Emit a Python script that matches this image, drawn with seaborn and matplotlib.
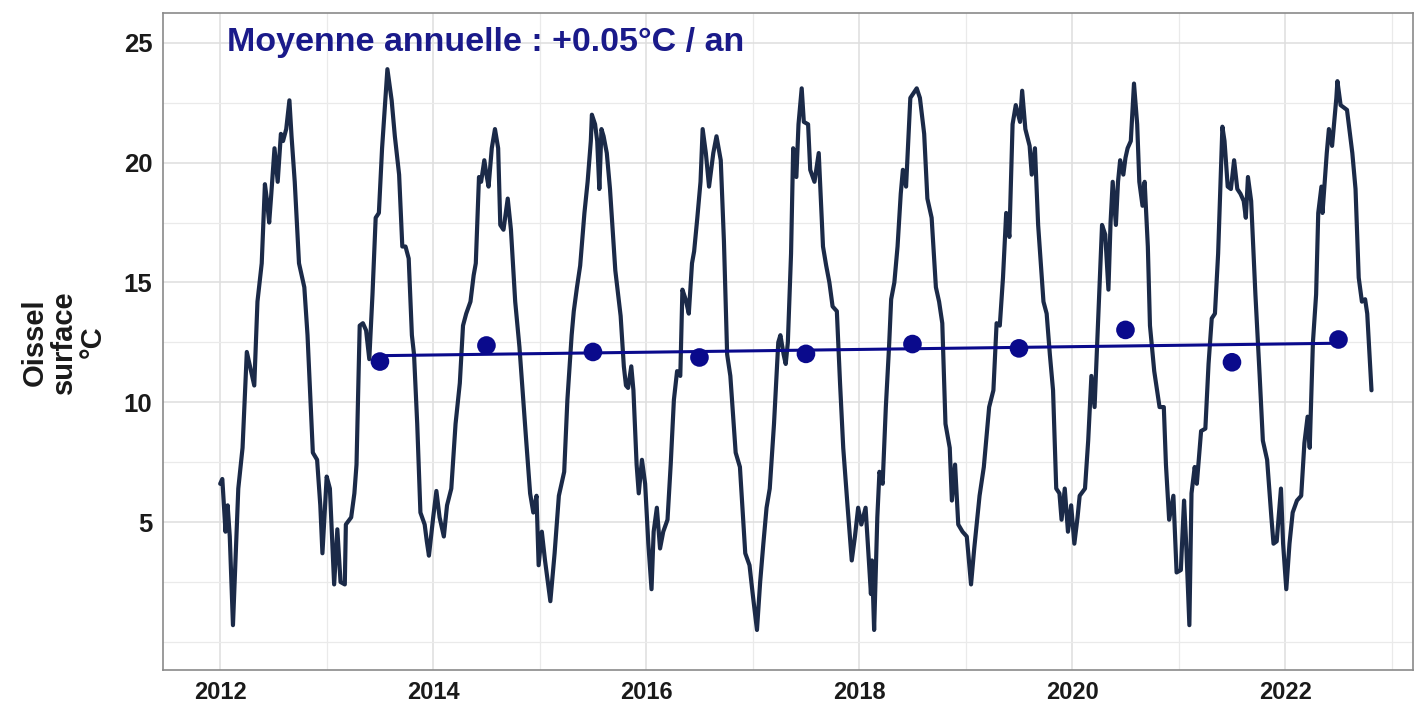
import numpy as np
import pandas as pd
import seaborn as sns
import matplotlib.pyplot as plt

# --- weekly surface temperature at Oissel (decimal year, °C) ---
dates = [
    2012.00, 2012.02, 2012.05, 2012.07, 2012.09, 2012.12, 2012.17, 2012.21, 2012.25, 2012.28,
    2012.32, 2012.35, 2012.39, 2012.42, 2012.44, 2012.46, 2012.48, 2012.51, 2012.54, 2012.57,
    2012.59, 2012.62, 2012.65, 2012.67, 2012.70, 2012.74, 2012.79, 2012.82, 2012.87, 2012.91,
    2012.94, 2012.96, 2013.00, 2013.03, 2013.07, 2013.10, 2013.13, 2013.17, 2013.18, 2013.23,
    2013.26, 2013.28, 2013.31, 2013.34, 2013.37, 2013.40, 2013.43, 2013.46, 2013.49, 2013.52,
    2013.57, 2013.61, 2013.64, 2013.68, 2013.71, 2013.74, 2013.77, 2013.80, 2013.82, 2013.85,
    2013.88, 2013.92, 2013.94, 2013.96, 2014.00, 2014.03, 2014.06, 2014.10, 2014.13, 2014.17,
    2014.21, 2014.25, 2014.28, 2014.31, 2014.35, 2014.38, 2014.40, 2014.43, 2014.45, 2014.48,
    2014.50, 2014.52, 2014.55, 2014.58, 2014.61, 2014.63, 2014.66, 2014.70, 2014.73, 2014.77,
    2014.81, 2014.87, 2014.91, 2014.94, 2014.97, 2014.99, 2015.02, 2015.05, 2015.10, 2015.14,
    2015.18, 2015.23, 2015.26, 2015.30, 2015.32, 2015.35, 2015.38, 2015.42, 2015.45, 2015.48,
    2015.49, 2015.52, 2015.54, 2015.56, 2015.58, 2015.60, 2015.63, 2015.66, 2015.71, 2015.76,
    2015.79, 2015.81, 2015.83, 2015.86, 2015.88, 2015.91, 2015.93, 2015.96, 2015.99, 2016.02,
    2016.05, 2016.07, 2016.10, 2016.13, 2016.16, 2016.20, 2016.23, 2016.26, 2016.29, 2016.32,
    2016.34, 2016.37, 2016.40, 2016.43, 2016.45, 2016.48, 2016.51, 2016.53, 2016.56, 2016.59,
    2016.63, 2016.66, 2016.70, 2016.73, 2016.76, 2016.79, 2016.84, 2016.88, 2016.93, 2016.97,
    2017.00, 2017.04, 2017.07, 2017.10, 2017.13, 2017.16, 2017.20, 2017.24, 2017.26, 2017.29,
    2017.31, 2017.33, 2017.36, 2017.38, 2017.41, 2017.43, 2017.46, 2017.48, 2017.52, 2017.54,
    2017.58, 2017.62, 2017.66, 2017.69, 2017.72, 2017.75, 2017.79, 2017.82, 2017.85, 2017.89,
    2017.93, 2017.96, 2017.99, 2018.02, 2018.06, 2018.09, 2018.11, 2018.12, 2018.14, 2018.17,
    2018.19, 2018.22, 2018.25, 2018.28, 2018.30, 2018.33, 2018.36, 2018.39, 2018.41, 2018.44,
    2018.48, 2018.51, 2018.54, 2018.57, 2018.61, 2018.64, 2018.68, 2018.72, 2018.75, 2018.78,
    2018.81, 2018.85, 2018.87, 2018.90, 2018.93, 2018.97, 2019.01, 2019.05, 2019.08, 2019.13,
    2019.17, 2019.22, 2019.26, 2019.29, 2019.32, 2019.35, 2019.38, 2019.41, 2019.44, 2019.47,
    2019.51, 2019.53, 2019.56, 2019.60, 2019.62, 2019.65, 2019.68, 2019.73, 2019.76, 2019.79,
    2019.82, 2019.85, 2019.88, 2019.90, 2019.93, 2019.96, 2019.99, 2020.02, 2020.05, 2020.07,
    2020.12, 2020.15, 2020.18, 2020.21, 2020.25, 2020.28, 2020.31, 2020.34, 2020.36, 2020.38,
    2020.41, 2020.43, 2020.45, 2020.48, 2020.50, 2020.52, 2020.55, 2020.58, 2020.61, 2020.63,
    2020.66, 2020.68, 2020.71, 2020.73, 2020.77, 2020.82, 2020.86, 2020.88, 2020.91, 2020.95,
    2020.98, 2021.02, 2021.05, 2021.07, 2021.10, 2021.12, 2021.15, 2021.17, 2021.21, 2021.25,
    2021.28, 2021.31, 2021.34, 2021.37, 2021.41, 2021.43, 2021.46, 2021.49, 2021.52, 2021.55,
    2021.58, 2021.61, 2021.63, 2021.65, 2021.68, 2021.72, 2021.76, 2021.79, 2021.83, 2021.87,
    2021.89, 2021.92, 2021.96, 2021.98, 2022.01, 2022.04, 2022.07, 2022.11, 2022.15, 2022.18,
    2022.21, 2022.23, 2022.26, 2022.29, 2022.31, 2022.34, 2022.35, 2022.39, 2022.41, 2022.44,
    2022.46, 2022.48, 2022.49, 2022.52, 2022.55, 2022.58, 2022.63, 2022.66, 2022.69, 2022.72,
    2022.75, 2022.77, 2022.81,
]
temps = [
    6.6, 6.8, 4.6, 5.7, 4.4, 0.7, 6.4, 8.1, 12.1, 11.5,
    10.7, 14.2, 15.8, 19.1, 18.4, 17.5, 18.7, 20.6, 19.2, 21.2,
    20.9, 21.4, 22.6, 21.1, 19.2, 15.8, 14.8, 12.8, 7.9, 7.6,
    5.7, 3.7, 6.9, 6.4, 2.4, 4.7, 2.5, 2.4, 4.9, 5.2,
    6.2, 7.4, 13.2, 13.3, 13.0, 11.8, 14.5, 17.7, 17.9, 20.6,
    23.9, 22.6, 21.1, 19.5, 16.5, 16.5, 16.0, 12.8, 12.0, 9.1,
    5.4, 4.9, 4.2, 3.6, 5.2, 6.3, 5.2, 4.4, 5.7, 6.4,
    9.1, 10.8, 13.2, 13.7, 14.2, 15.3, 15.8, 19.4, 19.2, 20.1,
    19.5, 19.0, 20.6, 21.4, 20.6, 17.4, 17.2, 18.5, 17.2, 14.2,
    12.3, 8.6, 6.2, 5.4, 6.1, 3.2, 4.6, 3.4, 1.7, 3.7,
    6.1, 7.1, 10.1, 12.8, 13.8, 14.8, 15.7, 17.9, 19.2, 20.9,
    22.0, 21.6, 20.9, 18.9, 21.4, 21.1, 20.4, 18.9, 15.5, 13.6,
    11.5, 10.7, 10.6, 11.5, 10.5, 7.4, 6.2, 7.6, 6.6, 4.1,
    2.2, 4.6, 5.6, 3.9, 4.6, 5.1, 7.4, 10.1, 11.3, 11.1,
    14.7, 14.3, 13.7, 15.8, 16.3, 17.7, 19.2, 21.4, 20.4, 19.0,
    20.4, 21.1, 20.1, 16.7, 12.0, 11.1, 7.9, 7.3, 3.7, 3.2,
    2.0, 0.5, 2.5, 4.1, 5.6, 6.4, 9.1, 12.5, 12.8, 12.0,
    11.6, 12.5, 16.2, 20.6, 19.4, 21.6, 23.1, 21.7, 21.6, 19.7,
    19.2, 20.4, 16.5, 15.7, 15.0, 14.0, 13.8, 10.8, 8.1, 5.7,
    3.4, 4.4, 5.6, 4.9, 5.6, 3.4, 2.0, 3.4, 0.5, 5.2,
    7.1, 6.6, 9.8, 12.3, 14.3, 15.0, 16.5, 18.7, 19.7, 19.0,
    22.7, 22.9, 23.1, 22.7, 21.2, 18.5, 17.7, 14.8, 14.2, 13.3,
    9.1, 8.1, 5.9, 7.4, 4.9, 4.6, 4.4, 2.4, 3.9, 6.1,
    7.3, 9.8, 10.5, 13.3, 13.2, 15.2, 17.9, 16.9, 21.6, 22.4,
    21.7, 23.0, 21.4, 20.7, 19.5, 20.6, 17.4, 14.2, 13.7, 12.0,
    10.5, 6.4, 6.2, 5.1, 6.4, 4.6, 5.7, 4.1, 5.2, 6.1,
    6.4, 8.4, 11.1, 9.8, 14.2, 17.4, 17.0, 14.7, 17.5, 19.2,
    17.4, 19.2, 20.1, 19.5, 20.2, 20.6, 20.9, 23.3, 21.6, 19.2,
    18.2, 19.2, 16.5, 13.2, 11.3, 9.8, 9.8, 7.4, 5.1, 6.1,
    2.9, 3.0, 5.9, 4.1, 0.7, 6.2, 7.3, 6.6, 8.8, 8.9,
    11.6, 13.5, 13.7, 16.2, 21.5, 20.9, 19.0, 18.9, 20.1, 18.9,
    18.7, 18.4, 17.7, 19.4, 18.4, 14.5, 11.1, 8.4, 7.6, 5.2,
    4.1, 4.2, 6.4, 4.1, 2.2, 4.1, 5.4, 5.9, 6.1, 8.3,
    9.4, 8.1, 12.5, 14.5, 17.9, 19.0, 17.9, 20.4, 21.4, 20.7,
    21.7, 22.7, 23.4, 22.4, 22.3, 22.2, 20.4, 18.9, 15.2, 14.2,
    14.3, 13.7, 10.5,
]

# --- annual means ---
years = list(range(2013, 2023))
annual_means = [11.70, 12.37, 12.10, 11.87, 12.02, 12.43, 12.25, 13.02, 11.67, 12.62]

annotation = "Moyenne annuelle : +0.05°C / an"
y_label = "Oissel\nsurface\n°C"

sns.set_theme(style="white")
plt.rcParams["font.family"] = ["Liberation Sans", "DejaVu Sans"]

series = pd.DataFrame({"date": dates, "temp": temps})
means = pd.DataFrame({"date": [y + 0.5 for y in years], "temp": annual_means})

line_col = "#1b2a48"
mean_col = "#0a0a8c"

fig = plt.figure(figsize=(14.17, 7.13), dpi=100)
ax = fig.add_axes([0.1148, 0.06, 0.8824, 0.9213])

sns.lineplot(data=series, x="date", y="temp", estimator=None, color=line_col,
             lw=3.0, ax=ax, zorder=3, solid_joinstyle="round", solid_capstyle="round")
sns.regplot(data=means, x="date", y="temp", ci=None, scatter=False, color=mean_col,
            line_kws={"lw": 2.2, "zorder": 4}, ax=ax)
sns.scatterplot(data=means, x="date", y="temp", color=mean_col, s=180,
                edgecolor="none", ax=ax, zorder=5)

ax.set_xlim(2011.46, 2023.2)
ax.set_ylim(-1.18, 26.23)
ax.set_xticks(range(2012, 2023, 2))
ax.set_xticks(range(2013, 2024, 2), minor=True)
ax.set_yticks([5, 10, 15, 20, 25])
ax.set_yticks([0, 2.5, 7.5, 12.5, 17.5, 22.5], minor=True)

ax.grid(which="major", color="#dedede", lw=1.1)
ax.grid(which="minor", color="#eaeaea", lw=0.9)
ax.set_axisbelow(True)

ax.tick_params(which="major", length=6.5, width=1, color="#555555",
               labelsize=18.5, labelcolor="#1a1a1a")
ax.tick_params(axis="y", pad=1)
ax.tick_params(axis="x", pad=1, labelsize=17)
ax.tick_params(which="minor", length=0)
for lab in ax.get_xticklabels() + ax.get_yticklabels():
    lab.set_fontweight("bold")

for sp in ax.spines.values():
    sp.set_color("#8a8a8a")
    sp.set_linewidth(1.2)

ax.set_xlabel("")
ax.set_ylabel(y_label, fontsize=21, fontweight="bold", color="#1a1a1a",
              labelpad=12, linespacing=1.05)

ax.text(2012.06, 25, annotation, color="#1a1a8a", fontsize=24.5,
        fontweight="bold", ha="left", va="center", zorder=6)

fig.savefig("out.png", dpi=100)
